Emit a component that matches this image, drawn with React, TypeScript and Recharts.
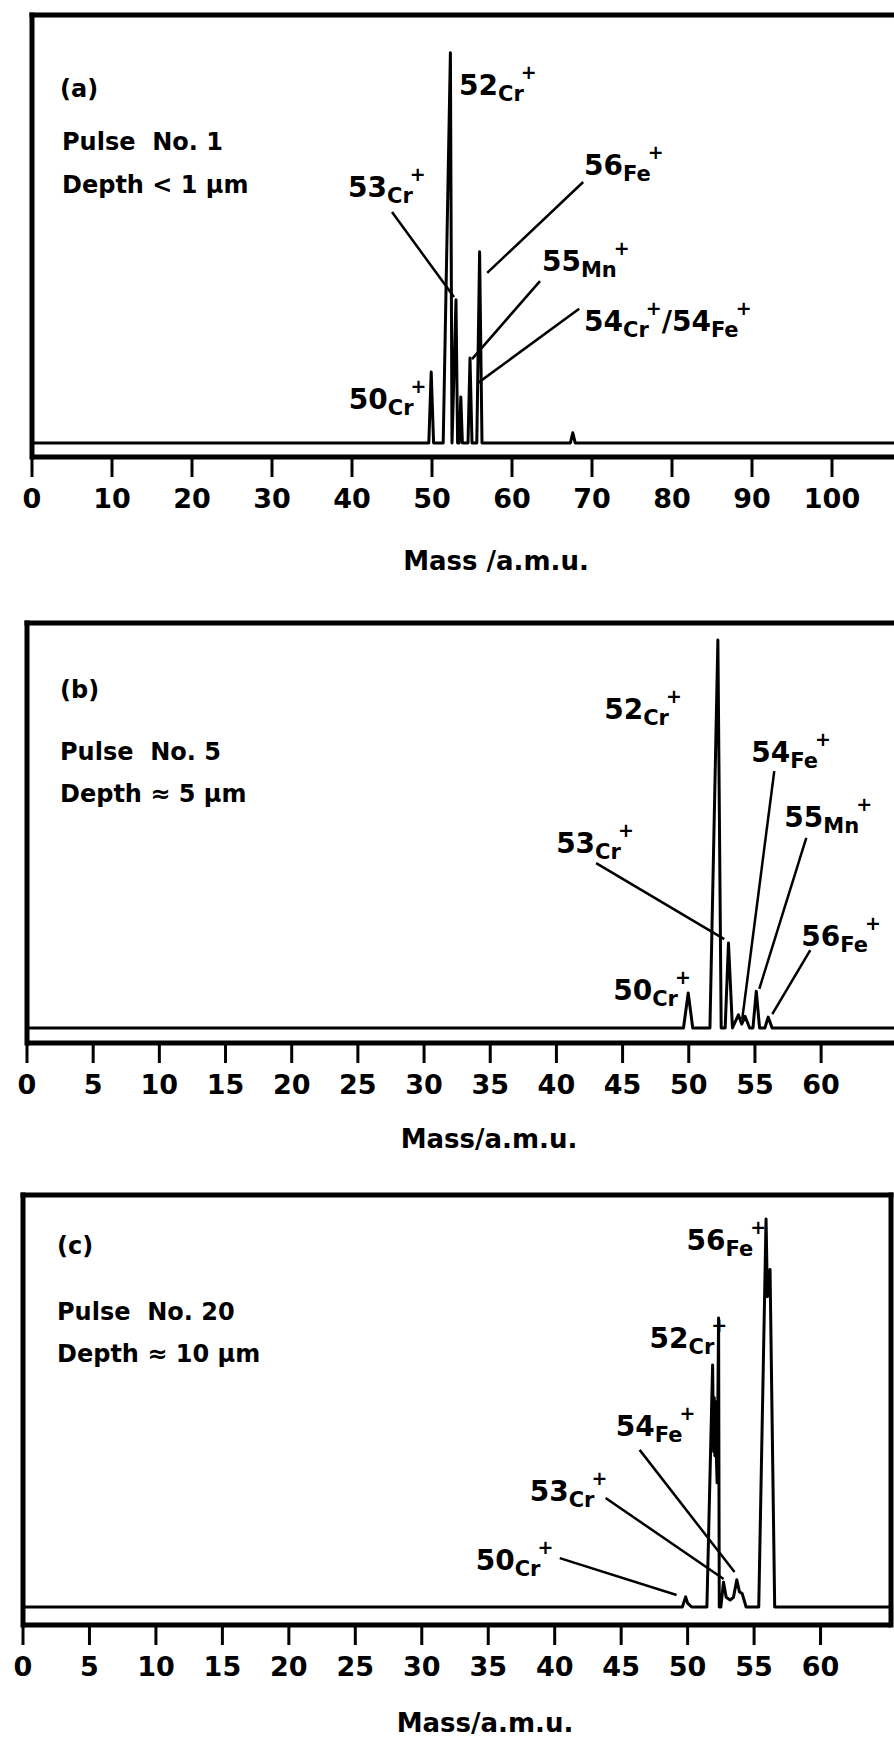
import React from "react";
import { LineChart, Line, XAxis, YAxis, ReferenceLine, ReferenceDot } from "recharts";

const FONT = '"DejaVu Sans", Verdana, sans-serif';

// (a) pulse 1 : mass (a.m.u.) and relative intensity of the trace
const massA = [0, 49.6, 49.9, 50.2, 51.4, 52.3, 52.5, 53.0, 53.2, 53.4, 53.6, 53.8, 54.5, 54.75, 55.0, 55.6, 55.95, 56.25, 67.3, 67.6, 67.9, 110];
const intA = [0, 0, 18.2, 0, 0, 100, 0, 36.7, 0, 0, 11.8, 0, 0, 21.8, 0, 0, 49, 0, 0, 2.6, 0, 0];

// (b) pulse 5
const massB = [0, 49.6, 49.96, 50.3, 51.6, 52.2, 52.45, 52.75, 53.0, 53.3, 53.75, 54.0, 54.25, 54.6, 54.85, 55.1, 55.35, 55.75, 56.0, 56.3, 68];
const intB = [0, 0, 9.0, 0, 0, 100, 0, 0, 21.9, 0, 3.4, 1, 3, 0, 0, 9.5, 0, 0, 2.8, 0, 0];

// (c) pulse 20
const massC = [0, 49.6, 49.85, 50.0, 50.3, 51.45, 51.88, 51.92, 51.96, 52.0, 52.05, 52.1, 52.15, 52.22, 52.33, 52.38, 52.5, 52.7, 52.9, 53.2, 53.45, 53.7, 53.9, 54.1, 54.4, 55.35, 55.9, 56.0, 56.2, 56.55, 65.3];
const intC = [0, 0, 2.6, 1.0, 0, 0, 62.4, 50, 40, 54, 39, 53, 40, 32, 74.5, 0, 0, 6.4, 2.5, 1.8, 2.5, 7.0, 3.9, 3.5, 0, 0, 100, 80, 87, 0, 0];

const ticksA = [0, 10, 20, 30, 40, 50, 60, 70, 80, 90, 100];
const ticksBC = [0, 5, 10, 15, 20, 25, 30, 35, 40, 45, 50, 55, 60];

type Ion = { n: string; el: string };
type Note = { ions: Ion[]; at: [number, number]; line?: [number, number][] };

const notesA: Note[] = [
  { ions: [{ n: "52", el: "Cr" }], at: [53.38, 89.2] },
  { ions: [{ n: "53", el: "Cr" }], at: [39.5, 63.1], line: [[45.0, 59.2], [52.75, 37.4]] },
  { ions: [{ n: "56", el: "Fe" }], at: [69.0, 68.7], line: [[68.9, 66.9], [56.9, 43.6]] },
  { ions: [{ n: "55", el: "Mn" }], at: [63.75, 44.1], line: [[63.5, 41.5], [55.0, 21.5]] },
  { ions: [{ n: "54", el: "Cr" }, { n: "/54", el: "Fe" }], at: [69.0, 28.7], line: [[68.4, 34.4], [55.75, 15.4]] },
  { ions: [{ n: "50", el: "Cr" }], at: [39.6, 8.7] },
];

const notesB: Note[] = [
  { ions: [{ n: "52", el: "Cr" }], at: [43.61, 79.6] },
  { ions: [{ n: "53", el: "Cr" }], at: [39.98, 45.1], line: [[43.0, 42.5], [52.68, 22.9]] },
  { ions: [{ n: "54", el: "Fe" }], at: [54.72, 68.6], line: [[56.46, 66.2], [54.04, 2.3]] },
  { ions: [{ n: "55", el: "Mn" }], at: [57.22, 51.8], line: [[58.88, 49.0], [55.33, 10.1]] },
  { ions: [{ n: "56", el: "Fe" }], at: [58.5, 21.1], line: [[59.18, 20.1], [56.31, 3.6]] },
  { ions: [{ n: "50", el: "Cr" }], at: [44.29, 7.2] },
];

const notesC: Note[] = [
  { ions: [{ n: "56", el: "Fe" }], at: [49.92, 92.0] },
  { ions: [{ n: "52", el: "Cr" }], at: [47.14, 66.8] },
  { ions: [{ n: "54", el: "Fe" }], at: [44.59, 44.1], line: [[46.39, 40.5], [53.53, 9.0]] },
  { ions: [{ n: "53", el: "Cr" }], at: [38.12, 27.3], line: [[43.83, 28.1], [52.71, 7.2]] },
  { ions: [{ n: "50", el: "Cr" }], at: [34.06, 9.5], line: [[40.38, 12.6], [49.17, 3.1]] },
];

type Panel = {
  top: number;
  width: number;
  height: number;
  margin: { top: number; right: number; bottom: number; left: number };
  xMax: number;
  yMin: number;
  yMax: number;
  ticks: number[];
  mass: number[];
  inten: number[];
  notes: Note[];
  closed: boolean;
};

const panels: Panel[] = [
  { top: 0, width: 922, height: 527, margin: { top: 15, right: 10, bottom: 0, left: 32 }, xMax: 110, yMin: -3.6, yMax: 109.7, ticks: ticksA, mass: massA, inten: intA, notes: notesA, closed: false },
  { top: 580, width: 937, height: 533, margin: { top: 43, right: 10, bottom: 0, left: 27 }, xMax: 68, yMin: -3.87, yMax: 104.4, ticks: ticksBC, mass: massB, inten: intB, notes: notesB, closed: false },
  { top: 1160, width: 894, height: 535, margin: { top: 35, right: 3, bottom: 0, left: 23 }, xMax: 65.3, yMin: -4.64, yMax: 106.2, ticks: ticksBC, mass: massC, inten: intC, notes: notesC, closed: true },
];

const headers = [
  { x: 60, y: 97, s: "(a)" },
  { x: 62, y: 150, s: "Pulse  No. 1" },
  { x: 62, y: 193, s: "Depth < 1 µm" },
  { x: 60, y: 698, s: "(b)" },
  { x: 60, y: 760, s: "Pulse  No. 5" },
  { x: 60, y: 802, s: "Depth ≈ 5 µm" },
  { x: 57, y: 1254, s: "(c)" },
  { x: 57, y: 1320, s: "Pulse  No. 20" },
  { x: 57, y: 1362, s: "Depth ≈ 10 µm" },
];

const titles = [
  { x: 496, y: 570, s: "Mass /a.m.u." },
  { x: 489, y: 1148, s: "Mass/a.m.u." },
  { x: 485, y: 1732, s: "Mass/a.m.u." },
];

function IonLabel({ cx, cy, ions }: { cx: number; cy: number; ions: Ion[] }) {
  return (
    <text x={cx} y={cy} fontFamily={FONT} fontWeight="bold" fill="#000">
      {ions.map((ion, i) => (
        <React.Fragment key={i}>
          <tspan fontSize={28} dy={i === 0 ? 0 : 16}>{ion.n}</tspan>
          <tspan fontSize={21} dy={6}>{ion.el}</tspan>
          <tspan fontSize={19} dx={-3} dy={-22}>+</tspan>
        </React.Fragment>
      ))}
    </text>
  );
}

function SpectrumPanel({ p }: { p: Panel }) {
  const data = p.mass.map((m, i) => ({ m, v: p.inten[i] }));
  return (
    <div style={{ position: "absolute", left: 0, top: p.top }}>
      <LineChart width={p.width} height={p.height} data={data} margin={p.margin}>
        <XAxis
          type="number"
          dataKey="m"
          domain={[0, p.xMax]}
          ticks={p.ticks}
          interval={0}
          allowDataOverflow
          height={70}
          tickSize={20}
          tickMargin={12}
          axisLine={{ stroke: "#000", strokeWidth: 5 }}
          tickLine={{ stroke: "#000", strokeWidth: 3 }}
          tick={{ fill: "#000", fontSize: 27, fontFamily: FONT, fontWeight: "bold" }}
        />
        <YAxis type="number" domain={[p.yMin, p.yMax]} hide allowDataOverflow />
        <ReferenceLine x={0} stroke="#000" strokeWidth={5} strokeLinecap="square" />
        <ReferenceLine y={p.yMax} stroke="#000" strokeWidth={5} strokeLinecap="square" />
        {p.closed && <ReferenceLine x={p.xMax} stroke="#000" strokeWidth={5} strokeLinecap="square" />}
        <Line type="linear" dataKey="v" stroke="#000" strokeWidth={3} strokeLinejoin="round" dot={false} isAnimationActive={false} />
        {p.notes
          .filter((n) => n.line)
          .map((n, i) => (
            <ReferenceLine
              key={`l${i}`}
              segment={[
                { x: n.line![0][0], y: n.line![0][1] },
                { x: n.line![1][0], y: n.line![1][1] },
              ]}
              stroke="#000"
              strokeWidth={2.5}
              ifOverflow="visible"
            />
          ))}
        {p.notes.map((n, i) => (
          <ReferenceDot
            key={`d${i}`}
            x={n.at[0]}
            y={n.at[1]}
            r={0}
            ifOverflow="visible"
            shape={(s: any) => <IonLabel cx={s.cx} cy={s.cy} ions={n.ions} />}
          />
        ))}
      </LineChart>
    </div>
  );
}

export default function App() {
  return (
    <div style={{ position: "absolute", left: 0, top: 0, width: 894, height: 1745, overflow: "hidden", background: "#fff" }}>
      {panels.map((p, i) => (
        <SpectrumPanel key={i} p={p} />
      ))}
      <svg width={894} height={1745} style={{ position: "absolute", left: 0, top: 0, pointerEvents: "none" }}>
        {headers.map((h, i) => (
          <text key={i} x={h.x} y={h.y} fontFamily={FONT} fontWeight="bold" fontSize={24} fill="#000" style={{ whiteSpace: "pre" }}>
            {h.s}
          </text>
        ))}
        {titles.map((t, i) => (
          <text key={i} x={t.x} y={t.y} fontFamily={FONT} fontWeight="bold" fontSize={26} fill="#000" textAnchor="middle">
            {t.s}
          </text>
        ))}
      </svg>
    </div>
  );
}
